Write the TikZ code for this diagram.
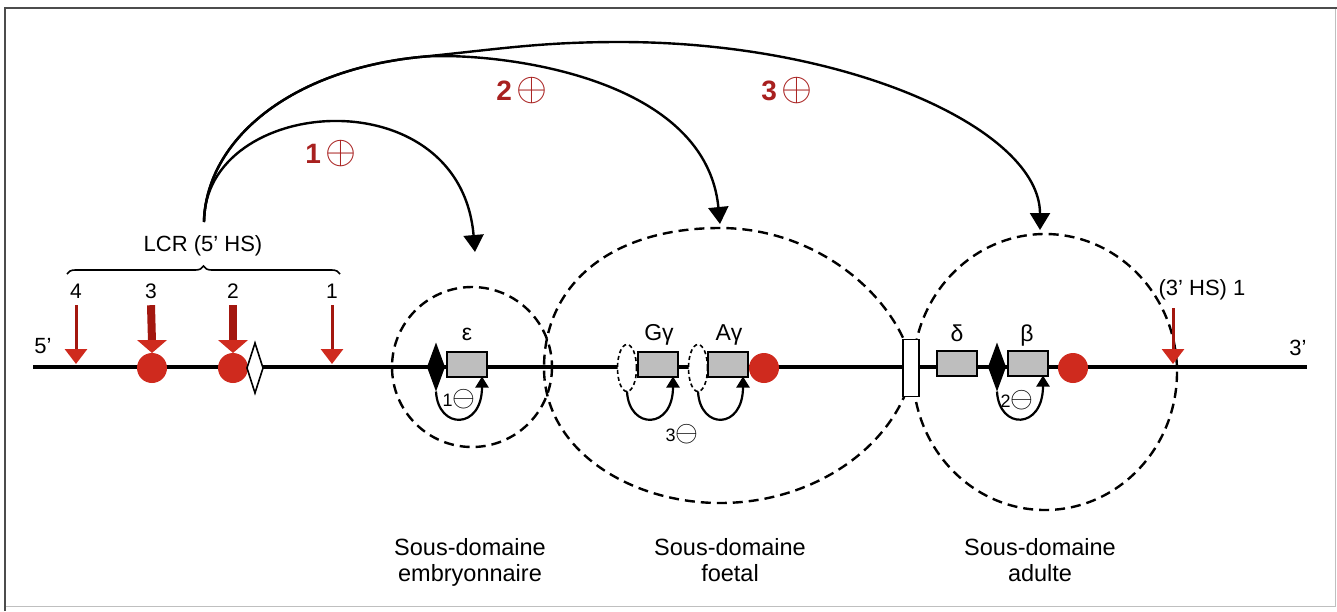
\documentclass[tikz,border=0pt]{standalone}
\usepackage{graphicx}
\usepackage{fontspec}
\setmainfont{Liberation Sans}
\usetikzlibrary{arrows.meta,shapes.geometric,decorations.pathreplacing}

\definecolor{hsred}{HTML}{CF2A1E}
\definecolor{hsdark}{HTML}{A3170F}
\definecolor{plusred}{HTML}{A8201F}
\definecolor{genegray}{HTML}{BEBEBE}

% circled signs used in the activation / repression labels
\newcommand{\bigplus}{\,\scalebox{1.6}{$\oplus$}}
\newcommand{\smallminus}{\scalebox{1.7}{$\ominus$}}

\begin{document}
\begin{tikzpicture}[x=1pt,y=-1pt,
  every node/.style={inner sep=0pt, outer sep=0pt},
  lbl/.style={font=\fontsize{22}{26}\selectfont},
  numlbl/.style={font=\fontsize{21}{25}\selectfont},
  genelbl/.style={font=\fontsize{23}{26}\selectfont},
  domlbl/.style={font=\fontsize{23.5}{26}\selectfont, align=center, anchor=north},
  actlbl/.style={font=\fontsize{28}{30}\selectfont\bfseries, text=plusred, anchor=base},
  replbl/.style={font=\fontsize{18}{20}\selectfont, anchor=base},
  dna/.style={line width=4pt},
  subdomain/.style={line width=2.4pt, dash pattern=on 10pt off 6pt},
  gene/.style={draw, line width=2pt, fill=genegray, minimum width=40pt, minimum height=25pt},
  ball/.style={circle, fill=hsred, minimum size=30pt},
  blackdia/.style={diamond, fill=black, minimum width=18pt, minimum height=49pt},
  whitedia/.style={diamond, draw, line width=1.6pt, fill=white, minimum width=16pt, minimum height=50pt},
  lens/.style={ellipse, draw, line width=1.6pt, dash pattern=on 4pt off 3pt, fill=white, minimum width=19pt, minimum height=47pt},
  insulator/.style={rectangle, draw, line width=1.6pt, fill=white, minimum width=16pt, minimum height=57pt},
  longarc/.style={line width=2.4pt, -{Triangle[width=20pt,length=17pt]}},
  repressloop/.style={line width=2.2pt, -{Triangle[width=13pt,length=11pt]}},
  thinred/.style={line width=3pt, draw=hsdark, -{Triangle[width=22pt,length=15pt,color=hsred]}},
  thickshaft/.style={line width=8pt, draw=hsdark},
  redhead/.style={fill=hsred}
]
\useasboundingbox (0,0) rectangle (1337,611);

% frame
\draw[line width=1pt, draw=black!25] (1335,8) -- (1335,606) -- (5,606);
\draw[line width=2pt, draw=black!70] (5,611) -- (5,8) -- (1337,8);

% chromatin sub-domains
\draw[subdomain] (472,367) circle[radius=80];
\draw[subdomain] (913,368) .. controls (900,300) and (820,228) .. (720,228)
  .. controls (610,228) and (544,285) .. (544,368)
  .. controls (544,450) and (630,503) .. (720,503)
  .. controls (820,503) and (900,440) .. (913,368);
\draw[subdomain] (1045,372) ellipse[x radius=132, y radius=138];

% DNA strand
\coordinate (dnaL) at (33,367);
\coordinate (dnaR) at (1307,367);
\draw[dna] (dnaL) -- (dnaR);
\node[lbl, anchor=base] (five) at (43,353) {5'};
\node[lbl, anchor=base] (three) at (1298,355) {3'};

% LCR hypersensitive sites
\node[lbl, anchor=base] (lcr) at (203,251) {LCR (5' HS)};
\draw[line width=1.6pt, decorate, decoration={brace, amplitude=8pt}] (67,274) -- (340,274);
\node[numlbl, anchor=base] (n4) at (76,298) {4};
\node[numlbl, anchor=base] (n3) at (151,298) {3};
\node[numlbl, anchor=base] (n2) at (233,298) {2};
\node[numlbl, anchor=base] (n1) at (332,298) {1};
\coordinate (s4) at (76,364);
\coordinate (s1) at (332,364);
\node[ball] (b3) at (152,368) {};
\node[ball] (b2) at (233,368) {};
\node[whitedia] (wd) at (255,368) {};
\draw[thinred] ([yshift=-7pt]n4.south) -- (s4);
\draw[thinred] ([yshift=-7pt]n1.south) -- (s1);
\draw[thickshaft] ([yshift=-7pt]n3.south) -- ([yshift=11pt]b3.north);
\fill[redhead] (b3.north) -- ++(-15,-13) -- ++(30,0) -- cycle;
\draw[thickshaft] ([yshift=-7pt]n2.south) -- ([yshift=11pt]b2.north);
\fill[redhead] (b2.north) -- ++(-15,-13) -- ++(30,0) -- cycle;

% embryonic gene
\node[blackdia] (ed) at (436,367) {};
\node[gene] (eps) at (467,364) {};
\node[genelbl, anchor=base] (epsl) at (467,340) {ε};
\draw[repressloop] (ed.south) .. controls (438,430) and (482,430) .. ([xshift=-5pt]eps.south east);
\node[replbl] (r1) at (459,406) {1\smallminus};

% foetal genes
\node[lens] (gl) at (627,368) {};
\node[gene] (gg) at (658,364) {};
\node[genelbl, anchor=base] (ggl) at (659,340) {Gγ};
\node[lens] (al) at (698,368) {};
\node[gene] (ag) at (728,364) {};
\node[genelbl, anchor=base] (agl) at (729,340) {Aγ};
\node[ball] (fb) at (764,368) {};
\draw[repressloop] (gl.south) .. controls (629,430) and (673,430) .. ([xshift=-5pt]gg.south east);
\draw[repressloop] (al.south) .. controls (700,430) and (743,430) .. ([xshift=-5pt]ag.south east);
\node[replbl] (r3) at (682,441) {3\smallminus};

% insulator between foetal and adult sub-domains
\node[insulator] (ins) at (911,368) {};

% adult genes
\node[gene] (del) at (957,363) {};
\node[genelbl, anchor=base] (dell) at (957,341) {δ};
\node[blackdia] (bd) at (997,367) {};
\node[gene] (bet) at (1028,363) {};
\node[genelbl, anchor=base] (betl) at (1027,341) {β};
\node[ball] (ab) at (1073,368) {};
\draw[repressloop] (bd.south) .. controls (999,430) and (1043,430) .. ([xshift=-5pt]bet.south east);
\node[replbl] (r2) at (1017,407) {2\smallminus};

% 3' hypersensitive site
\node[lbl, anchor=base] (hs3p) at (1202,295) {(3' HS) 1};
\coordinate (h3a) at (1173,308);
\coordinate (h3b) at (1173,364);
\draw[thinred] (h3a) -- (h3b);

% LCR activation of each sub-domain
\coordinate (lcrtop) at (204,222);
\coordinate (t1) at (475,252);
\coordinate (t2) at (720,224);
\coordinate (t3) at (1040,230);
\draw[longarc] (lcrtop) .. controls (204,95) and (460,75) .. (t1);
\draw[longarc] (lcrtop) .. controls (206,140) and (290,70) .. (420,57)
  .. controls (480,51) and (705,70) .. (t2);
\draw[longarc] (lcrtop) .. controls (206,140) and (290,70) .. (420,57)
  .. controls (500,49) and (540,42) .. (620,42)
  .. controls (850,42) and (1040,130) .. (t3);
\node[actlbl] (a1) at (331,163) {1\bigplus};
\node[actlbl] (a2) at (522,100) {2\bigplus};
\node[actlbl] (a3) at (787,100) {3\bigplus};

% sub-domain names
\node[domlbl] (d1) at (470,538) {Sous-domaine\\embryonnaire};
\node[domlbl] (d2) at (730,538) {Sous-domaine\\foetal};
\node[domlbl] (d3) at (1040,538) {Sous-domaine\\adulte};
\end{tikzpicture}
\end{document}
